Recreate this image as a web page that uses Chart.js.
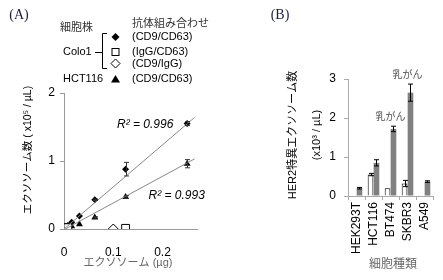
<!DOCTYPE html>
<html>
<head>
<meta charset="utf-8">
<script src="https://cdn.jsdelivr.net/npm/chart.js@4/dist/chart.umd.min.js"></script>
<style>
html,body{margin:0;padding:0;background:#fff;}
#wrap{position:relative;width:443px;height:280px;overflow:hidden;}
#chartA{position:absolute;left:0;top:0;}
#chartB{position:absolute;left:230px;top:0;}
</style>
</head>
<body>
<div id="wrap">
<canvas id="chartA" width="230" height="280"></canvas>
<canvas id="chartB" width="213" height="280"></canvas>
</div>
<script>
// ---------- panel A data ----------
var doseX = [0, 0.0039, 0.0078, 0.0156, 0.0313, 0.0625, 0.125, 0.25];
var colo1CD9CD63 = [0.01, 0.03, 0.05, 0.10, 0.19, 0.43, 0.88, 1.55];
var colo1Err = [0, 0, 0, 0, 0, 0.01, 0.10, 0.03];
var hct116CD9CD63 = [0.00, 0.01, 0.02, 0.04, 0.07, 0.17, 0.47, 0.96];
var hct116Err = [0, 0, 0, 0, 0, 0.01, 0.02, 0.06];
var igGCD63X = [0, 0.0039, 0.0078, 0.125];
var igGCD63 = [0.02, 0.02, 0.02, 0.01];
var cd9IgGX = [0.1];
var cd9IgG = [0];
var fitX = [0, 0.265];
var colo1Fit = [0, 1.64];
var hct116Fit = [-0.01, 1.03];
var r2Labels = ['R² = 0.996', 'R² = 0.993'];

// ---------- panel B data ----------
var cellLines = ['HEK293T', 'HCT116', 'BT474', 'SKBR3', 'A549'];
var controlVals = [0, 0.55, 0.2, 0.32, 0.01];
var controlErr = [0, 0.03, 0, 0.08, 0];
var her2Vals = [0.2, 0.85, 1.72, 2.65, 0.37];
var her2Err = [0.02, 0.08, 0.07, 0.22, 0.02];
var cancerNote = ['', '', '乳がん', '乳がん', ''];

var FONT = '"Liberation Sans", "Noto Sans CJK JP", sans-serif';
Chart.defaults.font.family = FONT;
Chart.defaults.color = '#000';

function pts(xs, ys) {
    return xs.map(function(x, i) { return {x: x, y: ys[i]}; });
}

function errorBar(ctx, px, yTop, yBot, half) {
    px = Math.round(px) + 0.5;
    ctx.beginPath();
    ctx.moveTo(px, yTop); ctx.lineTo(px, yBot);
    ctx.moveTo(px - half, yTop); ctx.lineTo(px + half, yTop);
    ctx.moveTo(px - half, yBot); ctx.lineTo(px + half, yBot);
    ctx.stroke();
}

// ++++++++++++++++++++ PANEL A ++++++++++++++++++++

var panelAExtras = {
    id: 'panelAExtras',
    afterDraw: function(chart) {
        var ctx = chart.ctx, xs = chart.scales.x, ys = chart.scales.y;
        ctx.save();
        ctx.strokeStyle = '#333';
        ctx.lineWidth = 1;
        [[colo1CD9CD63, colo1Err], [hct116CD9CD63, hct116Err]].forEach(function(s) {
            doseX.forEach(function(x, i) {
                if (!s[1][i]) return;
                errorBar(ctx, xs.getPixelForValue(x),
                    ys.getPixelForValue(s[0][i] + s[1][i]),
                    ys.getPixelForValue(s[0][i] - s[1][i]), 2.5);
            });
        });

        // R² labels
        ctx.fillStyle = '#000';
        ctx.font = 'italic 12px ' + FONT;
        ctx.textAlign = 'right';
        ctx.textBaseline = 'middle';
        ctx.fillText(r2Labels[0], xs.getPixelForValue(0.222), ys.getPixelForValue(1.53));
        ctx.fillText(r2Labels[1], xs.getPixelForValue(0.286), ys.getPixelForValue(0.49));

        // panel label
        ctx.textAlign = 'center';
        ctx.font = '14px "Liberation Serif", serif';
        ctx.fillStyle = '#1c1c40';
        ctx.fillText('(A)', 19, 15);

        // legend
        ctx.fillStyle = '#333';
        ctx.font = '11px ' + FONT;
        ctx.textAlign = 'left';
        ctx.fillText('細胞株', 60, 28);
        ctx.fillText('抗体組み合わせ', 132, 24);
        ctx.fillStyle = '#000';
        ctx.fillText('(CD9/CD63)', 132, 37);
        ctx.fillText('(IgG/CD63)', 132, 52);
        ctx.fillText('(CD9/IgG)', 132, 64);
        ctx.fillText('(CD9/CD63)', 132, 79);
        ctx.fillText('Colo1', 63, 52);
        ctx.fillText('HCT116', 63, 79);

        // bracket
        ctx.strokeStyle = '#000';
        ctx.beginPath();
        ctx.moveTo(95, 52.5); ctx.lineTo(102, 52.5);
        ctx.moveTo(107, 33.5); ctx.lineTo(102.5, 33.5); ctx.lineTo(102.5, 68.5); ctx.lineTo(107, 68.5);
        ctx.stroke();

        // legend markers
        var mx = 115.5;
        ctx.fillStyle = '#000';
        ctx.beginPath();
        ctx.moveTo(mx, 33); ctx.lineTo(mx + 4, 37); ctx.lineTo(mx, 41); ctx.lineTo(mx - 4, 37);
        ctx.closePath(); ctx.fill();
        ctx.strokeRect(mx - 3.5, 48.5, 7, 7);
        ctx.beginPath();
        ctx.moveTo(mx, 59); ctx.lineTo(mx + 4.5, 63.5); ctx.lineTo(mx, 68); ctx.lineTo(mx - 4.5, 63.5);
        ctx.closePath(); ctx.stroke();
        ctx.beginPath();
        ctx.moveTo(mx, 75); ctx.lineTo(mx + 4.5, 82.5); ctx.lineTo(mx - 4.5, 82.5);
        ctx.closePath(); ctx.fill();

        // axis titles
        ctx.fillStyle = '#666';
        ctx.font = '11px ' + FONT;
        ctx.textAlign = 'center';
        ctx.fillText('エクソソーム (µg)', 128, 263);
        ctx.save();
        ctx.translate(28, 150);
        ctx.rotate(-Math.PI / 2);
        ctx.fillStyle = '#000';
        ctx.font = '10.5px ' + FONT;
        ctx.fillText('エクソソーム数 ( x10⁵ / µL)', 0, 0);
        ctx.restore();
        ctx.restore();
    }
};

var chartA = new Chart(document.getElementById('chartA'), {
    type: 'scatter',
    data: {
        datasets: [
            {
                type: 'line', data: pts(fitX, colo1Fit), showLine: true,
                borderColor: '#888', borderWidth: 1, pointRadius: 0
            },
            {
                type: 'line', data: pts(fitX, hct116Fit), showLine: true,
                borderColor: '#888', borderWidth: 1, pointRadius: 0
            },
            {
                label: 'IgG/CD63', data: pts(igGCD63X, igGCD63),
                pointStyle: 'rect', pointRadius: 5.5,
                backgroundColor: '#fff', borderColor: '#000', borderWidth: 1
            },
            {
                label: 'CD9/IgG', data: pts(cd9IgGX, cd9IgG),
                pointStyle: 'rectRot', pointRadius: 5,
                backgroundColor: '#fff', borderColor: '#000', borderWidth: 1
            },
            {
                label: 'Colo1 CD9/CD63', data: pts(doseX, colo1CD9CD63),
                pointStyle: 'rectRot', pointRadius: 3.5,
                backgroundColor: '#000', borderColor: '#000', borderWidth: 0
            },
            {
                label: 'HCT116 CD9/CD63', data: pts(doseX, hct116CD9CD63),
                pointStyle: 'triangle', pointRadius: 4,
                backgroundColor: '#000', borderColor: '#000', borderWidth: 0
            }
        ]
    },
    options: {
        responsive: false,
        animation: false,
        layout: { padding: { left: 0, top: 93, right: 33, bottom: 0 } },
        plugins: { legend: { display: false }, tooltip: { enabled: false } },
        scales: {
            x: {
                type: 'linear', min: 0, max: 0.27,
                afterFit: function(s) { s.height = 51; },
                grid: { display: false },
                border: { color: '#999' },
                ticks: { stepSize: 0.1, includeBounds: false, padding: 8, font: { size: 12 }, color: '#000' }
            },
            y: {
                min: 0, max: 2,
                afterFit: function(s) { s.width = 64; },
                grid: { drawOnChartArea: false, drawTicks: true, tickLength: 4, color: '#999' },
                border: { color: '#999' },
                ticks: { stepSize: 1, padding: 5, font: { size: 12 }, color: '#000' }
            }
        }
    },
    plugins: [panelAExtras]
});

// ++++++++++++++++++++ PANEL B ++++++++++++++++++++

var panelBExtras = {
    id: 'panelBExtras',
    afterDatasetsDraw: function(chart) {
        var ctx = chart.ctx, ys = chart.scales.y, xs = chart.scales.x;
        ctx.save();
        ctx.strokeStyle = '#000';
        ctx.lineWidth = 1;
        [[controlVals, controlErr], [her2Vals, her2Err]].forEach(function(s, d) {
            chart.getDatasetMeta(d).data.forEach(function(bar, i) {
                if (!s[1][i]) return;
                errorBar(ctx, bar.x, ys.getPixelForValue(s[0][i] + s[1][i]),
                    ys.getPixelForValue(Math.max(s[0][i] - s[1][i], 0)), 2.5);
            });
        });

        ctx.fillStyle = '#555';
        ctx.font = '10px ' + FONT;
        ctx.textAlign = 'center';
        ctx.textBaseline = 'bottom';
        cancerNote.forEach(function(t, i) {
            if (!t) return;
            ctx.fillText(t, xs.getPixelForValue(i), ys.getPixelForValue(her2Vals[i] + her2Err[i]) - 4);
        });

        ctx.textBaseline = 'middle';
        ctx.font = '14px "Liberation Serif", serif';
        ctx.fillStyle = '#1c1c40';
        ctx.fillText('(B)', 50, 15);

        ctx.fillStyle = '#666';
        ctx.font = '12px ' + FONT;
        ctx.fillText('細胞種類', 163, 265);

        ctx.fillStyle = '#000';
        ctx.font = '11px ' + FONT;
        ctx.save();
        ctx.translate(63, 135);
        ctx.rotate(-Math.PI / 2);
        ctx.fillText('HER2特異エクソソーム数', 0, 0);
        ctx.restore();
        ctx.save();
        ctx.translate(87, 135);
        ctx.rotate(-Math.PI / 2);
        ctx.fillText('(x10³ / µL)', 0, 0);
        ctx.restore();
        ctx.restore();
    }
};

var chartB = new Chart(document.getElementById('chartB'), {
    type: 'bar',
    data: {
        labels: cellLines,
        datasets: [
            {
                label: 'control', data: controlVals,
                backgroundColor: '#fff', borderColor: '#000', borderWidth: 1,
                categoryPercentage: 0.7, barPercentage: 0.95
            },
            {
                label: 'HER2', data: her2Vals,
                backgroundColor: '#808080', borderWidth: 0,
                categoryPercentage: 0.7, barPercentage: 0.95
            }
        ]
    },
    options: {
        responsive: false,
        animation: false,
        layout: { padding: { left: 0, top: 79, right: 10, bottom: 0 } },
        plugins: { legend: { display: false }, tooltip: { enabled: false } },
        scales: {
            x: {
                afterFit: function(s) { s.height = 84; },
                grid: { drawOnChartArea: false, drawTicks: true, tickLength: 4, color: '#aaa' },
                border: { color: '#aaa' },
                ticks: { autoSkip: false, minRotation: 90, maxRotation: 90, padding: 2, font: { size: 12 }, color: '#000' }
            },
            y: {
                min: 0, max: 3,
                afterFit: function(s) { s.width = 118; },
                grid: { drawOnChartArea: false, drawTicks: true, tickLength: 4, color: '#aaa' },
                border: { color: '#aaa' },
                ticks: { stepSize: 1, padding: 8, font: { size: 12 }, color: '#000' }
            }
        }
    },
    plugins: [panelBExtras]
});
</script>
</body>
</html>
